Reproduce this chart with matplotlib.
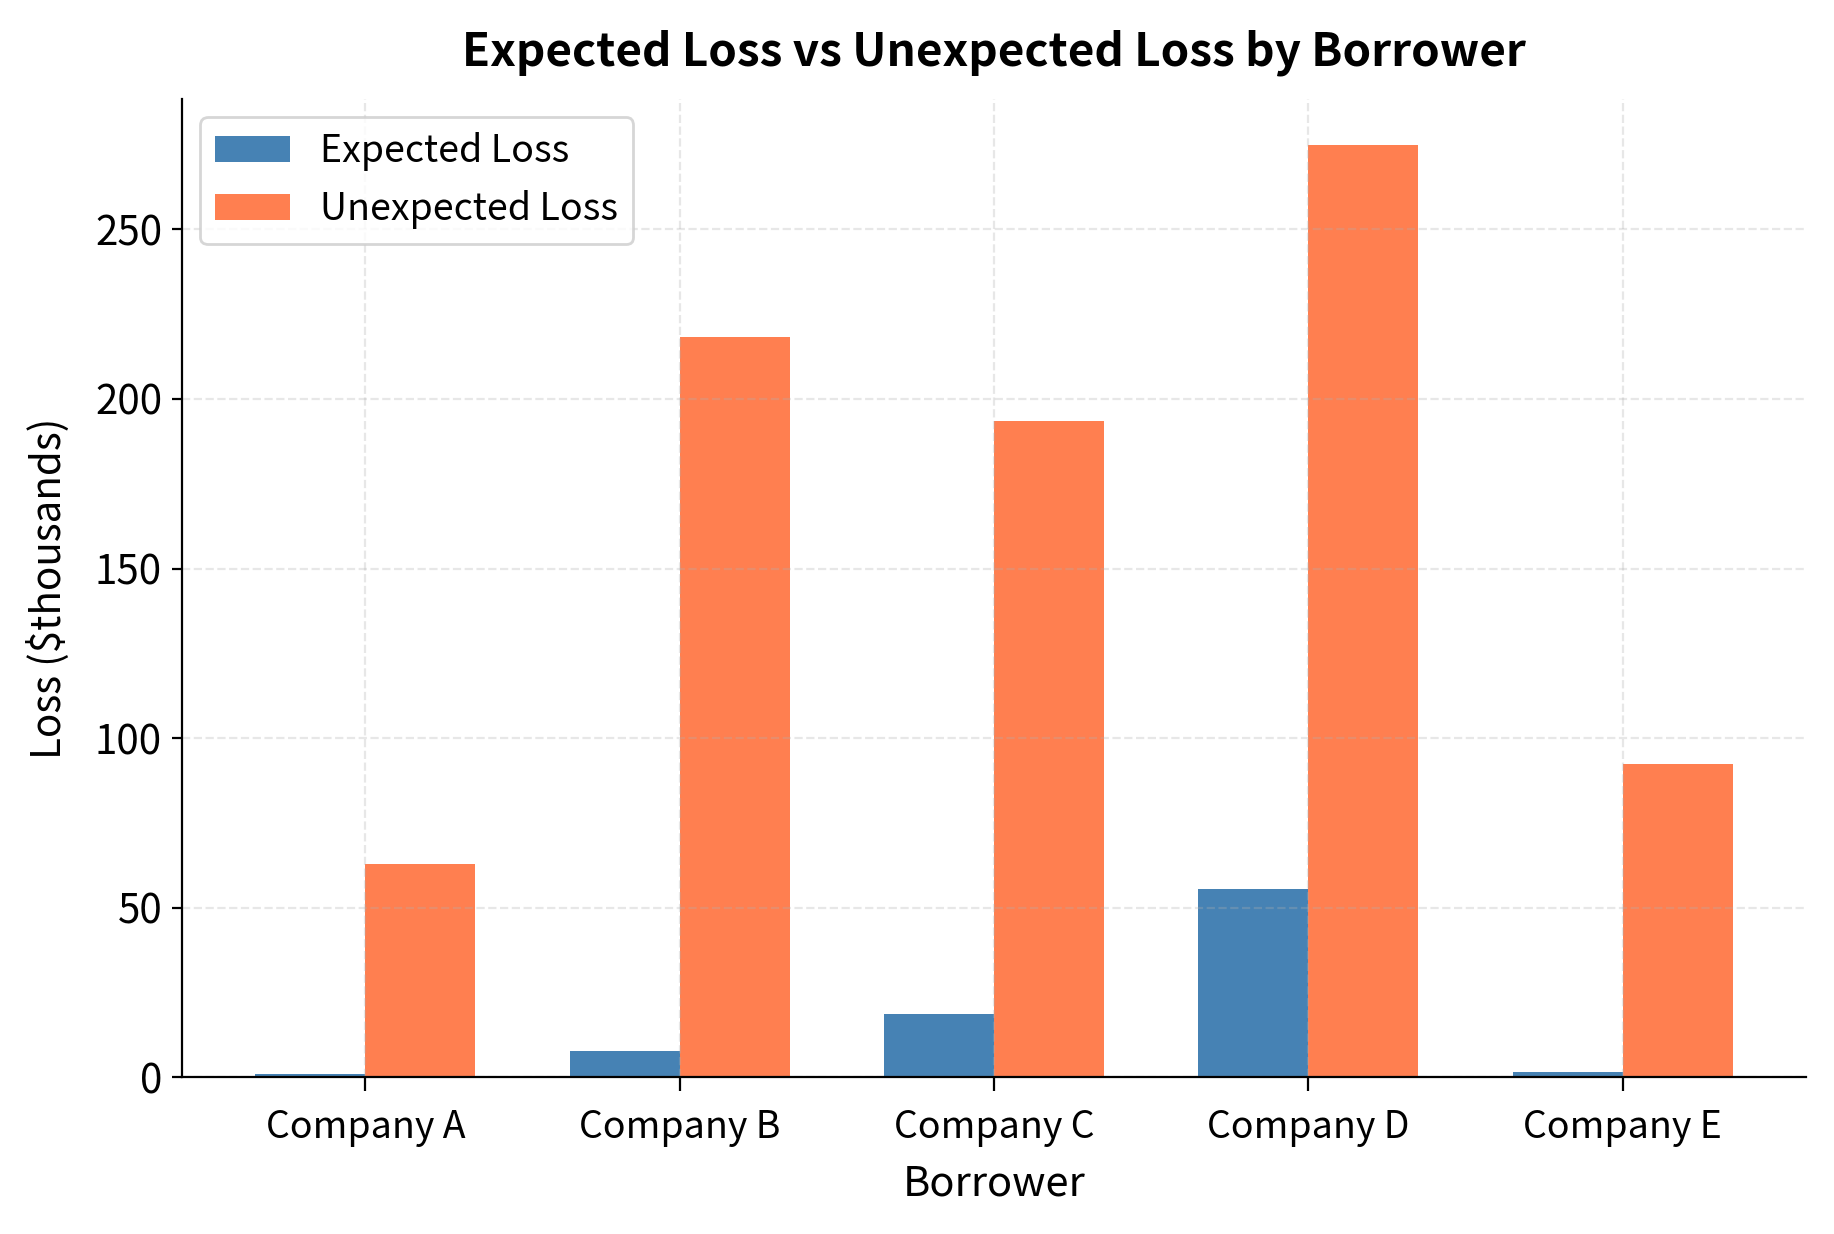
import matplotlib
matplotlib.use("Agg")
import matplotlib.pyplot as plt
import numpy as np

plt.rcParams['font.family'] = ['Noto Sans CJK JP', 'DejaVu Sans']

# data ($ thousands)
borrowers = ['Company A', 'Company B', 'Company C', 'Company D', 'Company E']
expected_loss = [1.0, 7.7, 18.7, 55.5, 1.7]
unexpected_loss = [62.8, 218.3, 193.4, 274.8, 92.4]

x = np.arange(len(borrowers))
width = 0.35

fig, ax = plt.subplots(figsize=(9.17, 6.17), dpi=200)
ax.bar(x - width/2, expected_loss, width, label='Expected Loss', color='steelblue')
ax.bar(x + width/2, unexpected_loss, width, label='Unexpected Loss', color='coral')

ax.set_xticks(x)
ax.set_xticklabels(borrowers, fontsize=13.5)
ax.tick_params(axis='y', labelsize=14.5)
ax.tick_params(axis='x', length=5, pad=6)
ax.set_xlabel('Borrower', fontsize=15, labelpad=6)
ax.set_ylabel('Loss ($thousands)', fontsize=14.5, labelpad=9)
ax.set_title('Expected Loss vs Unexpected Loss by Borrower', fontsize=16.5, fontweight='bold', pad=12)
ax.legend(fontsize=13.5, loc='upper left')
ax.grid(True, linestyle='--', alpha=0.3)
ax.spines['top'].set_visible(False)
ax.spines['right'].set_visible(False)

fig.subplots_adjust(left=0.099, right=0.985, top=0.92, bottom=0.127)
plt.savefig('out.png', dpi=200)
